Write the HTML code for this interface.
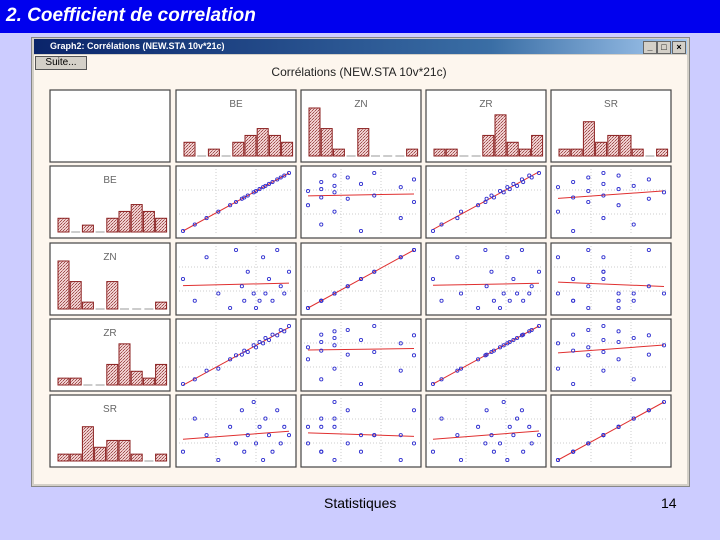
<!DOCTYPE html>
<html><head><meta charset="utf-8">
<style>
body{margin:0;width:720px;height:540px;background:#ccccff;position:relative;overflow:hidden;font-family:"Liberation Sans",sans-serif}
#hdr{position:absolute;left:0;top:0;width:720px;height:33px;background:#0000ee;color:#fff;font:italic bold 19px "Liberation Sans",sans-serif;line-height:32px;padding-left:6px;box-sizing:border-box}
#win{position:absolute;left:31px;top:37px;width:659px;height:450px;background:#d4d0c8;border:1px solid #888;box-sizing:border-box}
#wtitle{position:absolute;left:2px;top:1px;right:2px;height:15px;background:linear-gradient(90deg,#0a246a,#3a6ea5 70%,#a6caf0);color:#fff;font:bold 9px "Liberation Sans",sans-serif;line-height:15px;padding-left:16px}
.wb{position:absolute;top:2px;width:12px;height:11px;background:#d4d0c8;border:1px solid #666;font:bold 9px sans-serif;color:#000;text-align:center;line-height:10px}
#content{position:absolute;left:2px;top:17px;right:2px;bottom:2px;background:#fdf6ee}
#suite{position:absolute;left:1px;top:1px;width:50px;height:12px;background:#d4d0c8;border:1px solid #555;font:10px "Liberation Sans",sans-serif;text-align:center;line-height:12px}
#foot1{position:absolute;left:324px;top:495px;font-size:14px;color:#000}
#foot2{position:absolute;left:661px;top:495px;font-size:14px;color:#000}
</style></head><body>
<div id="hdr">2. Coefficient de correlation</div>
<div id="win">
 <div id="wtitle">Graph2: Corrélations (NEW.STA 10v*21c)
  <div class="wb" style="right:30px">_</div>
  <div class="wb" style="right:16px">□</div>
  <div class="wb" style="right:1px">×</div>
 </div>
 <div id="content">
  <div id="suite">Suite...</div>
  <svg id="chart" width="655" height="429" style="position:absolute;left:0;top:0">
   <defs><pattern id="hatch" width="3" height="3" patternUnits="userSpaceOnUse"><rect width="3" height="3" fill="#f0d0d0"/><rect width="1" height="1" fill="#a05050"/><rect x="2" y="1" width="1" height="1" fill="#a05050"/><rect x="1" y="2" width="1" height="1" fill="#c08080"/></pattern></defs>
  </svg>
 </div>
</div>
<div id="foot1">Statistiques</div>
<div id="foot2">14</div>
<script>
const varNames=["BE","ZN","ZR","SR"];
const BE=[1,2,3,4,5,5.5,6,6.2,6.5,7,7.2,7.5,7.8,8,8.3,8.6,9,9.3,9.6,10];
const ZN=[5,2,8,3,1,9,4,2,6,3,1,2,8,3,5,2,9,4,3,6];
const ZR=[1.5,2.2,3.5,3.8,5.2,5.8,5.9,6.5,6.3,7.3,7.0,7.8,7.6,8.4,8.1,8.9,8.8,9.6,9.4,10.2];
const SR=[3,7,5,2,6,4,8,3,5,9,4,6,2,7,5,3,8,4,6,5];
const histBE=[2,0,1,0,2,3,4,3,2];
const histZN=[7,4,1,0,4,0,0,0,1];
const histZR=[1,1,0,0,3,6,2,1,3];
const histSR=[1,1,5,2,3,3,1,0,1];
const series=[BE,ZN,ZR,SR];
const hists=[histBE,histZN,histZR,histSR];
const NS="http://www.w3.org/2000/svg";
const svg=document.getElementById('chart');
function mk(t,a,p){const e=document.createElementNS(NS,t);for(const k in a)e.setAttribute(k,a[k]);(p||svg).appendChild(e);return e;}
const OX=34,OY=55;
const colX=[50,176,301,426,551],rowY=[90,166,243,319,395],CW=120,CH=72;
const t=mk('text',{x:359-OX,y:76-OY,'text-anchor':'middle','font-size':12,'font-family':'Liberation Sans, sans-serif',fill:'#222'});
t.textContent='Corrélations (NEW.STA 10v*21c)';


function sc(v,a,b,p,q){return p+(v-a)/(b-a)*(q-p);}
for(let r=0;r<5;r++)for(let c=0;c<5;c++){
 const x=colX[c]-OX,y=rowY[r]-OY;
 const g=mk('g',{});
 
 
 mk('rect',{x:x,y:y,width:CW,height:CH,fill:'#fff',stroke:'#444','stroke-width':1.2},g);
 if(r===0&&c===0)continue;
 if(r===0||c===0){
  const vi=(r===0?c:r)-1;
  const lb=mk('text',{x:x+CW/2,y:y+17,'text-anchor':'middle','font-size':10,fill:'#666','font-family':'Liberation Sans, sans-serif'},g);
  lb.textContent=varNames[vi];
  
  
  const h=hists[vi],mx=7,bw=11,base=y+CH-6,x0=x+8;
  h.forEach((v,i)=>{
   const bx=x0+i*12.2;
   if(v===0){mk('line',{x1:bx+1,x2:bx+bw-1,y1:base,y2:base,stroke:'#999'},g);return;}
   const hh=v/mx*48;
   const b=mk('rect',{x:bx,y:base-hh,width:bw,height:hh,fill:'url(#hatch)',stroke:'#8b2020','stroke-width':1},g);
   
   
  });
  continue;
 }
 const xs=series[c-1],ys=series[r-1];
 const xa=Math.min(...xs),xb=Math.max(...xs),ya=Math.min(...ys),yb=Math.max(...ys);
 const px0=x+7,px1=x+CW-7,py0=y+CH-7,py1=y+7;
 for(let k=1;k<3;k++){
  mk('line',{x1:x+k*CW/3,x2:x+k*CW/3,y1:y+3,y2:y+CH-3,stroke:'#ccc','stroke-dasharray':'1,2'},g);
  mk('line',{x1:x+3,x2:x+CW-3,y1:y+k*CH/3,y2:y+k*CH/3,stroke:'#ccc','stroke-dasharray':'1,2'},g);
 }
 const n=xs.length,mx=xs.reduce((a,b)=>a+b)/n,my=ys.reduce((a,b)=>a+b)/n;
 let sxy=0,sxx=0;for(let i=0;i<n;i++){sxy+=(xs[i]-mx)*(ys[i]-my);sxx+=(xs[i]-mx)**2;}
 const sl=sxy/sxx,ic=my-sl*mx;
 const rl=mk('line',{x1:sc(xa,xa,xb,px0,px1),y1:sc(ic+sl*xa,ya,yb,py0,py1),x2:sc(xb,xa,xb,px0,px1),y2:sc(ic+sl*xb,ya,yb,py0,py1),stroke:'#e03030','stroke-width':1},g);
 
 
 for(let i=0;i<n;i++){
  const p=mk('circle',{cx:sc(xs[i],xa,xb,px0,px1),cy:sc(ys[i],ya,yb,py0,py1),r:1.6,fill:'none',stroke:'#3030d0','stroke-width':0.9},g);
  
  
 }
}
</script>
</body></html>
